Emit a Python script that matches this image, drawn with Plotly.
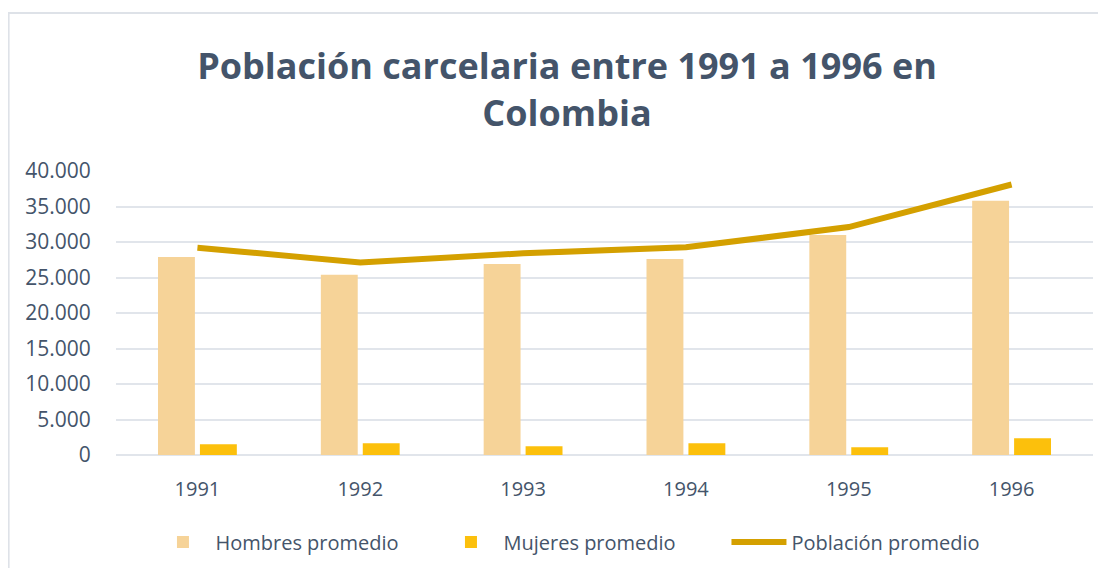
import plotly.graph_objects as go

years = ["1991", "1992", "1993", "1994", "1995", "1996"]
hombres = [27900, 25400, 26900, 27600, 31000, 35800]
mujeres = [1500, 1650, 1250, 1650, 1100, 2350]
poblacion = [29200, 27100, 28400, 29250, 32100, 38100]
y_ticks = [0, 5000, 10000, 15000, 20000, 25000, 30000, 35000, 40000]

TXT = "#44546A"
OFF = 8  # page body margin
W, H = 1098, 560
L, R, T, B = 115.5 - OFF, 12.5, 171 - OFF, 113
pw, ph = W - L - R, H - T - B

fig = go.Figure()
fig.add_trace(go.Bar(
    x=years, y=hombres, name="Hombres promedio",
    marker=dict(color="#F6D398", line=dict(width=0)),
))
fig.add_trace(go.Bar(
    x=years, y=mujeres, name="Mujeres promedio",
    marker=dict(color="#FCC00C", line=dict(width=0)),
))
fig.add_trace(go.Scatter(
    x=years, y=poblacion, name="Población promedio", mode="lines",
    line=dict(color="#D4A000", width=6),
))

# helpers: page pixel -> paper coords
def px_x(x):
    return (x - OFF - L) / pw

def px_y(y):
    return (H - B - (y - OFF)) / ph

fig.update_layout(
    width=W, height=H,
    margin=dict(l=L, r=R, t=T, b=B, autoexpand=False),
    paper_bgcolor="white", plot_bgcolor="white",
    separators=",.",
    barmode="group", bargap=0.485, bargroupgap=0.12,
    font=dict(family="Open Sans, sans-serif", color=TXT, size=20),
    title=dict(
        text="<b>Población carcelaria entre 1991 a 1996 en<br>Colombia</b>",
        x=(567 - OFF) / W, xanchor="center", y=1 - 71 / H, yanchor="top",
        font=dict(size=36, color=TXT, family="Open Sans, sans-serif"),
    ),
    xaxis=dict(
        showgrid=False, showline=False, zeroline=False,
        ticks="outside", ticklen=16, tickcolor="rgba(0,0,0,0)",
        tickfont=dict(size=20, color=TXT),
    ),
    yaxis=dict(
        range=[0, 40000], tickvals=y_ticks, tickformat=",d",
        showgrid=True, gridcolor="#E1E5EB", gridwidth=2,
        zeroline=True, zerolinecolor="#E1E5EB", zerolinewidth=2,
        showline=False,
        ticks="outside", ticklen=20, tickcolor="rgba(0,0,0,0)",
        tickfont=dict(size=21, color=TXT),
    ),
    legend=dict(
        orientation="h", x=px_x(150), xanchor="left",
        y=px_y(542), yanchor="middle",
        itemwidth=55,
        entrywidth=218, entrywidthmode="pixels",
        font=dict(size=20, color=TXT),
        traceorder="normal",
    ),
    shapes=[dict(
        type="rect", xref="paper", yref="paper",
        x0=px_x(8), x1=px_x(1112), y0=px_y(580), y1=px_y(13),
        line=dict(color="#DEE2E8", width=2), fillcolor="rgba(0,0,0,0)",
        layer="below",
    )],
)

fig.write_html("out.html")
